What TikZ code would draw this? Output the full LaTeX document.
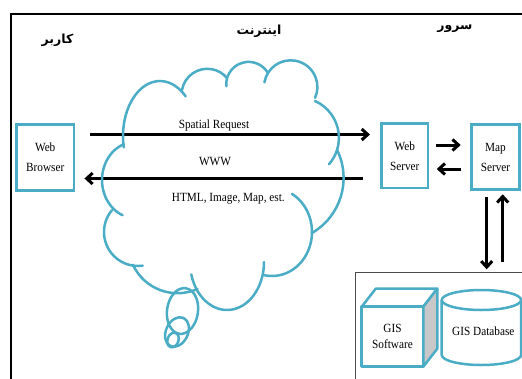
\documentclass[tikz,border=0pt]{standalone}
\usepackage{fontspec}
\usetikzlibrary{arrows.meta,calc}
\TeXXeTstate=1
\newfontfamily\arabicfont[Script=Arabic]{DejaVu Sans}
\newfontfamily\lblfont[FakeStretch=0.9]{Liberation Serif}
\definecolor{aqua}{HTML}{4BACC6}
\definecolor{cubegray}{HTML}{C8C8C8}
\newcommand\cloudlobe[6]{\draw[cloudline] (#1,#2) ++(#5:#3 and #4) arc[start angle=#5,end angle=#6,x radius=#3pt,y radius=#4pt];}
\begin{document}
\begin{tikzpicture}[x=1pt,y=1pt,yscale=-1,
  srvbox/.style={draw=aqua,line width=2.8pt,inner sep=0pt,align=center,font=\lblfont\fontsize{12.5}{20}\selectfont},
  lbl/.style={inner sep=0pt,font=\lblfont\fontsize{12.5}{15}\selectfont},
  fatext/.style={inner sep=0pt,font=\arabicfont\bfseries\fontsize{12.5}{15}\selectfont},
  arr/.style={line width=3pt,-{Straight Barb[length=6pt,width=11pt]}},
  cloudline/.style={draw=aqua,line width=2.5pt,line cap=round},
  aquaface/.style={draw=aqua,line width=2.5pt,line join=round}
]
\useasboundingbox (0,0) rectangle (522,378);
\clip (0,0) rectangle (522,378);
% frame
\draw[line width=2.5pt] (540,14) -- (11,14) -- (11,400);
% persian titles
\node[fatext] (user) at (57.5,40) {\beginR کاربر\endR};
\node[fatext] (inet) at (259,31) {\beginR اینترنت\endR};
\node[fatext] (srv) at (455,29) {\beginR سرور\endR};
% boxes
\node[srvbox,minimum width=57.7pt,minimum height=65.6pt] (wb) at (45.2,157.5) {Web\\Browser};
\node[srvbox,minimum width=46.7pt,minimum height=64.3pt] (ws) at (404.7,155.8) {Web\\Server};
\node[srvbox,minimum width=48.4pt,minimum height=65pt] (ms) at (495.5,157.2) {Map\\Server};
% labels
\node[lbl] (sr) at (214,125.3) {Spatial Request};
\node[lbl] (www) at (215,161.7) {WWW};
\node[lbl] (html) at (228.3,198.7) {HTML, Image, Map, est.};
% arrows
\coordinate (r1) at ($(wb.east)+(14.6,-23)$);
\draw[arr] (r1) -- ($(r1 -| ws.west)+(-10,0)$);
\coordinate (r2) at ($(ws.west)+(-16.5,22.7)$);
\draw[arr] (r2) -- ($(r2 -| wb.east)+(9,0)$);
\draw[arr] ($(ws.east)+(6.6,-10.8)$) -- ($(ms.west |- ws.east)+(-9.2,-10.8)$);
\draw[arr] ($(ms.west |- ws.east)+(-8.5,13.2)$) -- ($(ws.east)+(7.3,13.2)$);
\draw[arr] ($(ms.south)+(-8.8,5.6)$) -- ($(ms.south)+(-8.8,78.2)$);
\draw[arr] ($(ms.south)+(7.2,70.6)$) -- ($(ms.south)+(7.2,3.2)$);
% cloud
\cloudlobe{160}{136}{37}{55}{168}{314}
\cloudlobe{207.3}{94.5}{25.7}{25.7}{190}{320}
\cloudlobe{248.6}{84.3}{22.4}{22.4}{175}{330}
\cloudlobe{290.7}{87}{26.7}{26.7}{190}{384}
\cloudlobe{298.6}{137.8}{40.3}{40.3}{294}{401}
\cloudlobe{280}{178}{63.6}{63.6}{334}{420}
\cloudlobe{272}{232}{40}{44}{300}{462}
\cloudlobe{227}{262}{37}{48}{165}{0}
\cloudlobe{177.5}{244}{49.2}{49.2}{155}{66}
\cloudlobe{138}{232}{34}{34}{220}{82}
\cloudlobe{135}{180}{33}{38}{250}{112}
\draw[cloudline,rotate around={8:(182.5,311)}] (182.5,311) ellipse[x radius=15.5pt,y radius=23pt];
\draw[cloudline,rotate around={25:(177,332)}] (177,332) ellipse[x radius=11pt,y radius=15.5pt];
\draw[cloudline,rotate around={20:(173,340)}] (173,340) ellipse[x radius=5.5pt,y radius=7.5pt];
% database container
\draw[black!70,line width=1pt] (600,272.3) -- (355,272.3) -- (355,400);
% GIS software cube
\node[aquaface,outer sep=0pt,minimum width=61.6pt,minimum height=60pt,inner sep=0pt,align=center,font=\lblfont\fontsize{12.5}{16}\selectfont] (gs) at (392.5,336.7) {GIS\\Software};
\draw[aquaface] (gs.north west) -- ++(14,-18) -- ++(61.6,0) -- (gs.north east);
\filldraw[aquaface,fill=cubegray] (gs.north east) -- ++(14,-18) -- ++(0,60) -- (gs.south east) -- cycle;
% GIS database cylinder
\draw[aquaface] (441.7,300) -- (441.7,355) arc[start angle=180,end angle=0,x radius=39.7pt,y radius=10pt] -- (521.1,300);
\draw[aquaface] (481.4,300) ellipse[x radius=39.7pt,y radius=10pt];
\node[lbl] (gd) at (483.3,331) {GIS Database};
\end{tikzpicture}
\end{document}
